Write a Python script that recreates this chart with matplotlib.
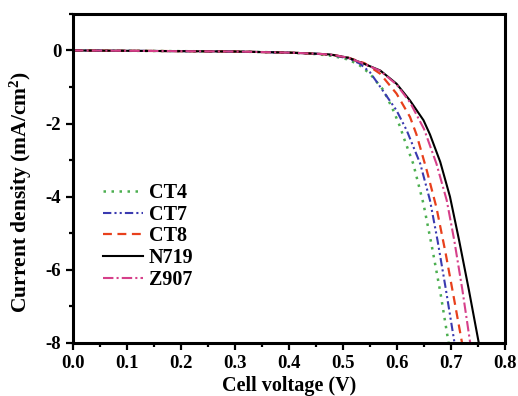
import matplotlib
matplotlib.use("Agg")
import matplotlib.pyplot as plt
from matplotlib.ticker import MultipleLocator

# J-V curves (cell voltage V, current density mA/cm2)
v_ct4 = [0, 0.1, 0.2, 0.3, 0.4, 0.45, 0.48, 0.51, 0.53, 0.55, 0.575, 0.593, 0.606, 0.612, 0.63, 0.649, 0.665, 0.68, 0.696]
j_ct4 = [0, -0.01, -0.02, -0.03, -0.06, -0.1, -0.15, -0.25, -0.4, -0.64, -1.09, -1.64, -2.1, -2.37, -3.1, -4.2, -5.4, -6.6, -8.05]

v_ct7 = [0, 0.1, 0.2, 0.3, 0.4, 0.45, 0.48, 0.51, 0.531, 0.55, 0.569, 0.599, 0.618, 0.643, 0.661, 0.675, 0.69, 0.707]
j_ct7 = [0, -0.01, -0.02, -0.03, -0.06, -0.09, -0.13, -0.22, -0.36, -0.6, -1.0, -1.64, -2.19, -3.1, -4.1, -5.2, -6.5, -8.05]

v_ct8 = [0, 0.1, 0.2, 0.3, 0.4, 0.45, 0.48, 0.51, 0.54, 0.569, 0.599, 0.624, 0.636, 0.655, 0.673, 0.69, 0.705, 0.721]
j_ct8 = [0, -0.01, -0.02, -0.03, -0.06, -0.09, -0.12, -0.2, -0.35, -0.64, -1.18, -1.82, -2.3, -3.28, -4.3, -5.55, -6.75, -8.05]

v_n719 = [0, 0.1, 0.2, 0.3, 0.4, 0.45, 0.476, 0.51, 0.538, 0.569, 0.599, 0.624, 0.649, 0.661, 0.68, 0.698, 0.715, 0.733, 0.752]
j_n719 = [0, -0.01, -0.02, -0.03, -0.06, -0.09, -0.11, -0.2, -0.36, -0.55, -0.91, -1.37, -1.91, -2.3, -3.05, -4.0, -5.2, -6.55, -8.05]

v_z907 = [0, 0.1, 0.2, 0.3, 0.4, 0.45, 0.476, 0.51, 0.538, 0.569, 0.599, 0.624, 0.65, 0.673, 0.692, 0.706, 0.721, 0.736]
j_z907 = [0, -0.01, -0.02, -0.03, -0.06, -0.09, -0.11, -0.2, -0.36, -0.56, -0.93, -1.42, -2.15, -3.1, -4.1, -5.2, -6.55, -8.05]

labels = ['CT4', 'CT7', 'CT8', 'N719', 'Z907']
x_ticks = [0.0, 0.1, 0.2, 0.3, 0.4, 0.5, 0.6, 0.7, 0.8]
y_ticks = [0, -2, -4, -6, -8]

plt.rcParams['font.family'] = ['Liberation Serif', 'DejaVu Serif']
plt.rcParams['font.weight'] = 'bold'
plt.rcParams['axes.unicode_minus'] = False
plt.rcParams['mathtext.fontset'] = 'custom'
plt.rcParams['mathtext.bf'] = 'Liberation Serif:bold'

fig = plt.figure(figsize=(5.18, 3.96), dpi=100)
ax = fig.add_axes([0.141, 0.134, 0.834, 0.831])

ax.plot(v_ct4, j_ct4, linestyle=(0, (1, 2.2)), color='#4caf50', lw=1.8, label=labels[0])
ax.plot(v_ct7, j_ct7, linestyle=(0, (4, 1.5, 1, 1.5, 1, 1.5)), color='#3a3ab0', lw=1.5, label=labels[1])
ax.plot(v_ct8, j_ct8, linestyle=(0, (4, 2.5)), color='#e8401c', lw=1.6, label=labels[2])
ax.plot(v_n719, j_n719, '-', color='black', lw=1.5, label=labels[3])
ax.plot(v_z907, j_z907, linestyle=(0, (5, 1.5, 1, 1.5)), color='#d6408a', lw=1.5, label=labels[4])

ax.set_xlim(0, 0.8)
ax.set_ylim(-8, 1)
ax.set_xticks(x_ticks)
ax.set_xticklabels(['%.1f' % t for t in x_ticks])
ax.set_yticks(y_ticks)
ax.xaxis.set_minor_locator(MultipleLocator(0.05))
ax.yaxis.set_minor_locator(MultipleLocator(1))
ax.tick_params(which='major', direction='out', length=5, width=1.6, labelsize=13.5)
ax.tick_params(which='minor', direction='out', length=3, width=1.6)
for s in ax.spines.values():
    s.set_linewidth(2.2)

ax.set_xlabel('Cell voltage (V)', fontweight='bold', fontsize=14.5, labelpad=3)
ax.set_ylabel('Current density (mA/cm$\\mathbf{^2}$)', fontweight='bold', fontsize=15.5)
ax.yaxis.set_label_coords(-0.09, 0.46)

ax.legend(loc='upper left', bbox_to_anchor=(0.05, 0.51), frameon=False, borderaxespad=0,
          handlelength=2.0, handletextpad=0.3, labelspacing=0.08, fontsize=14.5)

plt.savefig('out.png', dpi=100)
